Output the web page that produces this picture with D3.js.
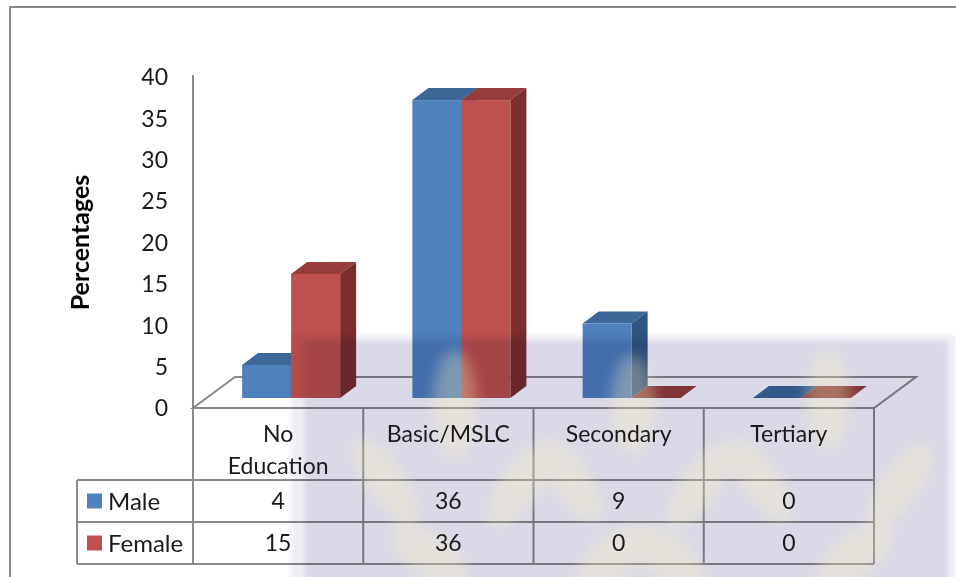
<!DOCTYPE html>
<html>
<head>
<meta charset="utf-8">
<script src="https://cdn.jsdelivr.net/npm/d3@7/dist/d3.min.js"></script>
<style>
  html, body { margin: 0; padding: 0; background: #fff; }
  svg { display: block; font-family: Lato, "Open Sans", sans-serif; }
</style>
</head>
<body>
<svg id="chart" width="956" height="577"></svg>
<script>
// Education level by sex (percentages)
const categories = ["No Education", "Basic/MSLC", "Secondary", "Tertiary"];
const categoryLines = [["No", "Education"], ["Basic/MSLC"], ["Secondary"], ["Tertiary"]];
const seriesNames = ["Male", "Female"];
const maleValues = [4, 36, 9, 0];
const femaleValues = [15, 36, 0, 0];
const yTicks = [0, 5, 10, 15, 20, 25, 30, 35, 40];
const yTitle = "Percentages";

const seriesValues = [maleValues, femaleValues];
const faceColors = [
  { front: "#4f81bd", top: "#3d6796", side: "#2f5683" },
  { front: "#c0504d", top: "#963d3b", side: "#7a2e2d" }
];

const svg = d3.select("#chart");
const textColor = "#1a1a1a";
const lineColor = "#8a8a8a";

// plot geometry
const left = 193, right = 874, floorY = 408;
const floorDepth = { dx: 42, dy: -31 };
const barShift = { dx: 13, dy: -10 };   // bar front face placed inside the floor
const barDepth = { dx: 16, dy: -12 };
const barGroupWidth = 98;

const y = d3.scaleLinear().domain([0, 40]).range([floorY, 77]);
const x0 = d3.scaleBand().domain(categories).range([left, right]);
const x1 = d3.scaleBand().domain(seriesNames).range([0, barGroupWidth]);

// frame around the chart area
svg.append("path")
  .attr("d", "M10,577 L10,7 L956,7")
  .attr("fill", "none").attr("stroke", lineColor).attr("stroke-width", 2);

// floor
const fl = [
  [left, floorY], [right, floorY],
  [right + floorDepth.dx, floorY + floorDepth.dy],
  [left + floorDepth.dx, floorY + floorDepth.dy]
];
svg.append("path")
  .attr("d", d3.line()(fl) + "Z")
  .attr("fill", "#fff").attr("stroke", lineColor).attr("stroke-width", 2);

// value axis line
svg.append("line")
  .attr("x1", left).attr("x2", left)
  .attr("y1", y(40) - 2).attr("y2", floorY)
  .attr("stroke", lineColor).attr("stroke-width", 2);

// 3D bars
const bars = svg.append("g");
categories.forEach((cat, ci) => {
  seriesNames.forEach((s, si) => {
    const v = seriesValues[si][ci];
    const cx = x0(cat) + (x0.bandwidth() - barGroupWidth) / 2 + barShift.dx + x1(s);
    const w = x1.bandwidth();
    const yb = y(0) + barShift.dy;
    const yt = y(v) + barShift.dy;
    const c = faceColors[si];
    const g = bars.append("g");
    // top face
    g.append("path")
      .attr("d", d3.line()([[cx, yt], [cx + w, yt], [cx + w + barDepth.dx, yt + barDepth.dy], [cx + barDepth.dx, yt + barDepth.dy]]) + "Z")
      .attr("fill", c.top);
    if (v > 0) {
      // side face
      g.append("path")
        .attr("d", d3.line()([[cx + w, yt], [cx + w + barDepth.dx, yt + barDepth.dy], [cx + w + barDepth.dx, yb + barDepth.dy], [cx + w, yb]]) + "Z")
        .attr("fill", c.side);
      // front face
      g.append("rect")
        .attr("x", cx).attr("y", yt).attr("width", w).attr("height", yb - yt)
        .attr("fill", c.front);
    }
  });
});

// data table grid
const table = svg.append("g");
const rowTop = [480, 522], rowBottom = 564;
const tableLeft = 77;
const tl = (x1_, y1_, x2_, y2_) => table.append("line")
  .attr("x1", x1_).attr("y1", y1_).attr("x2", x2_).attr("y2", y2_)
  .attr("stroke", lineColor).attr("stroke-width", 2);

const colEdges = categories.map(c => x0(c)).concat([right]);
colEdges.forEach(xe => tl(xe, floorY, xe, rowBottom));
tl(tableLeft, rowTop[0], tableLeft, rowBottom);
tl(tableLeft, rowTop[0], right, rowTop[0]);
tl(tableLeft, rowTop[1], right, rowTop[1]);
tl(tableLeft, rowBottom, right, rowBottom);

// faint emblem watermark over the lower right of the page
const defs = svg.append("defs");
defs.append("filter").attr("id", "soft")
  .attr("x", "-10%").attr("y", "-10%").attr("width", "120%").attr("height", "120%")
  .append("feGaussianBlur").attr("stdDeviation", 2.5);
defs.append("filter").attr("id", "softer")
  .attr("x", "-20%").attr("y", "-20%").attr("width", "140%").attr("height", "140%")
  .append("feGaussianBlur").attr("stdDeviation", 7);

const wm = svg.append("g").style("mix-blend-mode", "multiply");
wm.append("rect").attr("x", 291).attr("y", 335).attr("width", 665).attr("height", 250)
  .attr("fill", "#eeeef5").attr("filter", "url(#soft)");
wm.append("rect").attr("x", 305).attr("y", 341).attr("width", 643).attr("height", 250)
  .attr("fill", "#d9d9e8").attr("filter", "url(#soft)");

const leaves = [
  { cx: 455, cy: 405, rx: 22, ry: 55, rot: 0 },
  { cx: 633, cy: 405, rx: 22, ry: 50, rot: 0 },
  { cx: 828, cy: 400, rx: 22, ry: 50, rot: 0 },
  { cx: 385, cy: 480, rx: 20, ry: 50, rot: -35 },
  { cx: 520, cy: 485, rx: 20, ry: 50, rot: 35 },
  { cx: 570, cy: 480, rx: 20, ry: 50, rot: -35 },
  { cx: 700, cy: 485, rx: 20, ry: 50, rot: 35 },
  { cx: 760, cy: 480, rx: 20, ry: 50, rot: -35 },
  { cx: 900, cy: 485, rx: 20, ry: 50, rot: 35 },
  { cx: 430, cy: 555, rx: 22, ry: 45, rot: -55 },
  { cx: 615, cy: 555, rx: 22, ry: 45, rot: 55 },
  { cx: 665, cy: 555, rx: 22, ry: 45, rot: -55 },
  { cx: 855, cy: 555, rx: 22, ry: 45, rot: 55 }
];
svg.append("g").attr("filter", "url(#softer)").attr("opacity", 0.32)
  .selectAll("ellipse").data(leaves).join("ellipse")
  .attr("cx", d => d.cx).attr("cy", d => d.cy).attr("rx", d => d.rx).attr("ry", d => d.ry)
  .attr("transform", d => `rotate(${d.rot},${d.cx},${d.cy})`)
  .attr("fill", "#fff4c0");

// tick labels
svg.append("g").selectAll("text").data(yTicks).join("text")
  .attr("x", 168).attr("y", d => y(d)).attr("dy", "0.36em")
  .attr("text-anchor", "end").attr("font-size", 23).attr("fill", textColor)
  .text(d => d);

// axis title
svg.append("text")
  .attr("transform", `translate(89,${(y(40) + floorY) / 2}) rotate(-90)`)
  .attr("text-anchor", "middle").attr("font-size", 25).attr("font-weight", "bold")
  .attr("fill", "#000").text(yTitle);

// table text: category headers
const tableText = svg.append("g");
categories.forEach((cat, ci) => {
  const t = tableText.append("text")
    .attr("x", x0(cat) + x0.bandwidth() / 2)
    .attr("y", 442)
    .attr("text-anchor", "middle").attr("font-size", 23).attr("fill", textColor);
  categoryLines[ci].forEach((ln, li) => {
    t.append("tspan").attr("x", x0(cat) + x0.bandwidth() / 2).attr("dy", li === 0 ? 0 : 32).text(ln);
  });
});

// series rows with legend keys
seriesNames.forEach((s, si) => {
  const cy = (rowTop[si] + (si === 0 ? rowTop[1] : rowBottom)) / 2;
  tableText.append("rect")
    .attr("x", 87).attr("y", cy - 7.5).attr("width", 15).attr("height", 15)
    .attr("fill", faceColors[si].front);
  tableText.append("text")
    .attr("x", 108).attr("y", cy).attr("dy", "0.36em")
    .attr("font-size", 24).attr("fill", textColor).text(s);
  categories.forEach((cat, ci) => {
    tableText.append("text")
      .attr("x", x0(cat) + x0.bandwidth() / 2).attr("y", cy).attr("dy", "0.36em")
      .attr("text-anchor", "middle").attr("font-size", 23).attr("fill", textColor)
      .text(seriesValues[si][ci]);
  });
});
</script>
</body>
</html>
